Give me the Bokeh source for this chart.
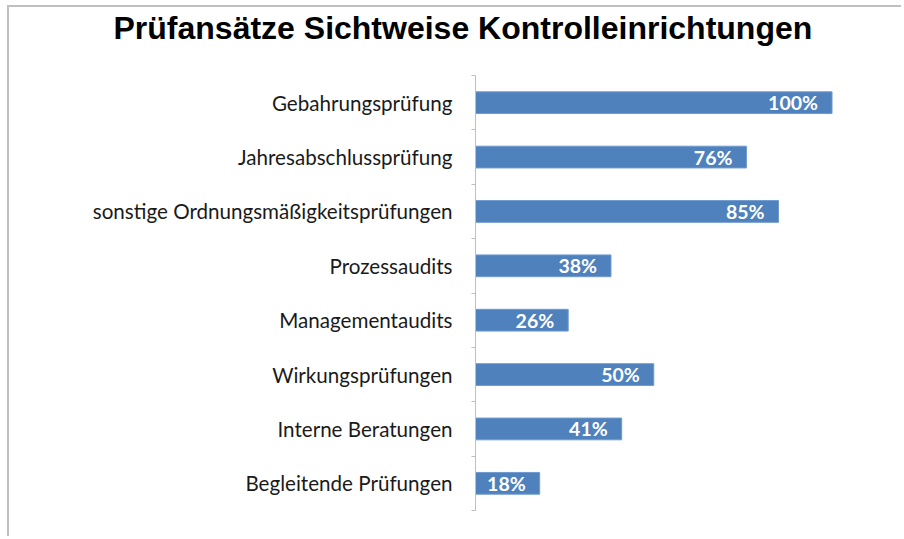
from bokeh.plotting import figure
from bokeh.models import Range1d, FixedTicker, ColumnDataSource, Title
from bokeh.core.properties import value
from bokeh.embed import file_html
from bokeh.resources import INLINE

title_text = "Prüfansätze Sichtweise Kontrolleinrichtungen"
categories = [
    "Gebahrungsprüfung",
    "Jahresabschlussprüfung",
    "sonstige Ordnungsmäßigkeitsprüfungen",
    "Prozessaudits",
    "Managementaudits",
    "Wirkungsprüfungen",
    "Interne Beratungen",
    "Begleitende Prüfungen",
]
values = [1.00, 0.76, 0.85, 0.38, 0.26, 0.50, 0.41, 0.18]
value_labels = ["100%", "76%", "85%", "38%", "26%", "50%", "41%", "18%"]

n = len(categories)
ypos = [n - i - 0.5 for i in range(n)]

src = ColumnDataSource(dict(y=ypos, v=values, lab=value_labels, cat=categories))

# frame spans 465 px; the category band occupies the lower 435 px
p = figure(width=894, height=531, output_backend="svg", toolbar_location=None,
           x_range=Range1d(0, 1.15), y_range=Range1d(0, n * 465 / 435),
           min_border_left=466, min_border_right=18, min_border_top=38, min_border_bottom=28)
p.margin = (5, 0, 0, 7)
p.styles = {"border-top": "2px solid #c0c0c0", "border-left": "2px solid #c0c0c0"}

p.title = Title(text=title_text, text_font="Liberation Sans", text_font_size="32px",
                text_font_style="bold", text_color="#000000", align="left",
                offset=-362, standoff=0)

p.hbar(y="y", right="v", left=0, height=0.4, source=src, color="#4F81BD", line_color="#6f9ad0")
p.text(x="v", y="y", text="lab", source=src, x_offset=-14, text_align="right",
       text_baseline="middle", text_color="white", text_font=value("Lato"),
       text_font_size="19.5px", text_font_style="bold")

p.xaxis.visible = False
p.xgrid.visible = False
p.ygrid.visible = False
p.outline_line_color = None

ax = p.yaxis[0]
ax.bounds = (0, n)
ax.ticker = FixedTicker(ticks=ypos, minor_ticks=list(range(n + 1)))
ax.major_label_overrides = {y: c for y, c in zip(ypos, categories)}
ax.major_tick_line_color = None
ax.major_tick_out = 0
ax.major_tick_in = 0
ax.minor_tick_out = 4
ax.minor_tick_in = 0
ax.minor_tick_line_color = "#bfbfbf"
ax.axis_line_color = "#bfbfbf"
ax.major_label_standoff = 19
ax.major_label_text_font = "Lato"
ax.major_label_text_font_size = "20.6px"
ax.major_label_text_color = "#1a1a1a"

open("out.html", "w").write(file_html(p, INLINE))
